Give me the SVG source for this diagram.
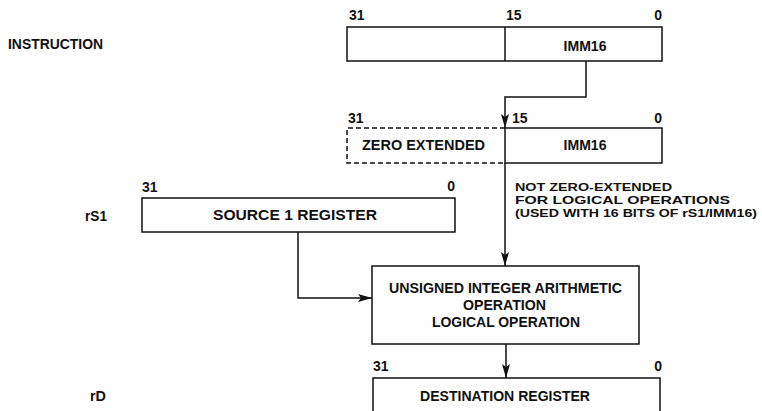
<svg xmlns="http://www.w3.org/2000/svg" width="762" height="411" viewBox="0 0 762 411">
<style>
text{font-family:"Liberation Sans",Arial,sans-serif;font-size:15px;font-weight:bold;fill:#111}
.n{font-size:14px}
.s{font-size:11.5px}
.box{fill:none;stroke:#111;stroke-width:1.5}
.dash{fill:none;stroke:#111;stroke-width:1.5;stroke-dasharray:5 3}
.c{fill:none;stroke:#111;stroke-width:1.5}
.m{text-anchor:middle}
.e{text-anchor:end}
</style>
<defs>
<marker id="ah" markerUnits="userSpaceOnUse" markerWidth="16" markerHeight="10" refX="14" refY="5" orient="auto">
<path d="M0,1 L14,5 L0,9 L3,5 Z" fill="#111"/>
</marker>
</defs>
<rect width="762" height="411" fill="#fff"/>
<g id="labels">
<text x="8" y="49" textLength="95" lengthAdjust="spacingAndGlyphs">INSTRUCTION</text>
<text x="85" y="221" textLength="22" lengthAdjust="spacingAndGlyphs">rS1</text>
<text x="90" y="401" textLength="16" lengthAdjust="spacingAndGlyphs">rD</text>
</g>
<g id="instruction">
<rect class="box" x="347" y="27" width="315" height="34"/>
<line class="box" x1="505" y1="27" x2="505" y2="61"/>
<text class="m" x="585" y="51" textLength="43" lengthAdjust="spacingAndGlyphs">IMM16</text>
<text class="n" x="349" y="20">31</text>
<text class="n" x="506" y="20">15</text>
<text class="n e" x="662" y="20">0</text>
</g>
<g id="zero-extended">
<path class="dash" d="M505,128 H347 V163 H505"/>
<path class="box" d="M505,128 H662 V163 H505 Z"/>
<text class="m" x="423.5" y="150" textLength="123" lengthAdjust="spacingAndGlyphs">ZERO EXTENDED</text>
<text class="m" x="585" y="150" textLength="43" lengthAdjust="spacingAndGlyphs">IMM16</text>
<text class="n" x="348" y="123">31</text>
<text class="n" x="512" y="123">15</text>
<text class="n e" x="662" y="123">0</text>
</g>
<g id="note">
<text class="s" x="515" y="191" textLength="157" lengthAdjust="spacingAndGlyphs">NOT ZERO-EXTENDED</text>
<text class="s" x="515" y="204" textLength="215" lengthAdjust="spacingAndGlyphs">FOR LOGICAL OPERATIONS</text>
<text class="s" x="515" y="217" textLength="242" lengthAdjust="spacingAndGlyphs">(USED WITH 16 BITS OF rS1/IMM16)</text>
</g>
<g id="source1">
<rect class="box" x="142" y="198" width="313" height="34"/>
<text class="m" x="295" y="220" textLength="164" lengthAdjust="spacingAndGlyphs">SOURCE 1 REGISTER</text>
<text class="n" x="142" y="192">31</text>
<text class="n e" x="455" y="191">0</text>
</g>
<g id="operation">
<rect class="box" x="372" y="266" width="267" height="78"/>
<text class="m" x="505.5" y="293" textLength="233" lengthAdjust="spacingAndGlyphs">UNSIGNED INTEGER ARITHMETIC</text>
<text class="m" x="504.5" y="310" textLength="83" lengthAdjust="spacingAndGlyphs">OPERATION</text>
<text class="m" x="506" y="327" textLength="148" lengthAdjust="spacingAndGlyphs">LOGICAL OPERATION</text>
</g>
<g id="destination">
<path class="box" d="M373,415 V378 H660 V415"/>
<text class="m" x="505" y="401" textLength="170" lengthAdjust="spacingAndGlyphs">DESTINATION REGISTER</text>
<text class="n" x="373" y="371">31</text>
<text class="n e" x="662" y="371">0</text>
</g>
<g id="connectors">
<path class="c" d="M586,61 V97 H505 V128" marker-end="url(#ah)"/>
<path class="c" d="M505,163 V266" marker-end="url(#ah)"/>
<path class="c" d="M298,232 V298 H372" marker-end="url(#ah)"/>
<path class="c" d="M506,344 V378" marker-end="url(#ah)"/>
</g>
</svg>
